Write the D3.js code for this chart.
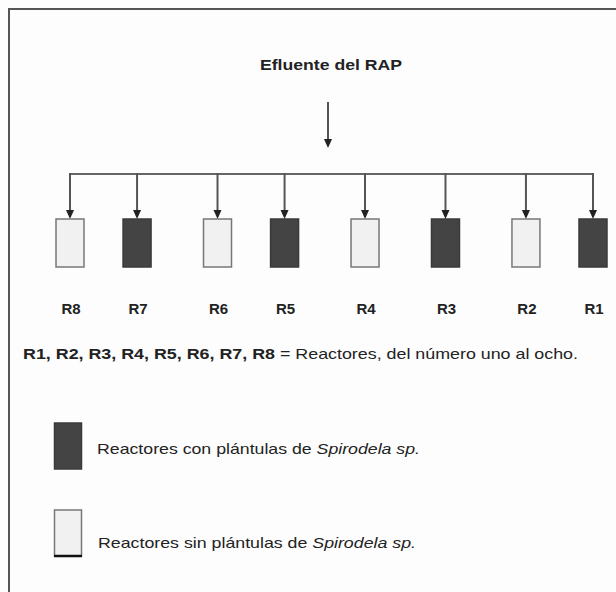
<!DOCTYPE html>
<html>
<head>
<meta charset="utf-8">
<script src="https://cdn.jsdelivr.net/npm/d3@7"></script>
<style>
  body { margin: 0; background: #fdfdfd; }
  text { font-family: "Liberation Sans", Arial, sans-serif; fill: #222; }
</style>
</head>
<body>
<script>
// reactor layout (left to right) and which ones have Spirodela plantlets
var reactors = ["R8", "R7", "R6", "R5", "R4", "R3", "R2", "R1"];
var slots = [0, 1, 2.2, 3.2, 4.4, 5.6, 6.8, 7.8];
var withPlants = [false, true, false, true, false, true, false, true];

var title = "Efluente del RAP";
var noteBold = "R1, R2, R3, R4, R5, R6, R7, R8";
var noteText = " = Reactores, del número uno al ocho.";
var legendItems = [
  { plants: true, text: "Reactores con plántulas de ", it: "Spirodela sp." },
  { plants: false, text: "Reactores sin plántulas de ", it: "Spirodela sp." }
];

var width = 616,
    height = 592;

var darkFill = "#444",
    lightFill = "#f1f1f1",
    lineCol = "#555";

var svg = d3.select("body").append("svg")
  .attr("width", width)
  .attr("height", height);

var x = d3.scaleLinear().domain([0, 7.8]).range([70, 593]);

var busY = 174, boxTop = 219, boxW = 28, boxH = 48;
var data = reactors.map(function(r, i) {
  return { name: r, slot: slots[i], plants: withPlants[i] };
});

// frame (only top and left edges show)
svg.append("path")
  .attr("d", "M9,592V9H616")
  .attr("fill", "none")
  .attr("stroke", "#555")
  .attr("stroke-width", 2);

// title + main arrow
var cx = 328;
svg.append("text")
  .attr("x", 260).attr("y", 70)
  .attr("textLength", 142).attr("lengthAdjust", "spacingAndGlyphs")
  .style("font-size", "15px").style("font-weight", "bold")
  .text(title);

function arrow(xp, y1, y2) {
  svg.append("line")
    .attr("x1", xp).attr("x2", xp)
    .attr("y1", y1).attr("y2", y2 - 6)
    .attr("stroke", lineCol).attr("stroke-width", 2);
  svg.append("path")
    .attr("d", "M" + (xp - 4) + "," + (y2 - 9) + "L" + (xp + 4) + "," + (y2 - 9) + "L" + xp + "," + y2 + "Z")
    .attr("fill", "#222");
}

arrow(cx, 102, 148);

// distribution bus
svg.append("line")
  .attr("x1", x(slots[0])).attr("x2", x(slots[slots.length - 1]))
  .attr("y1", busY).attr("y2", busY)
  .attr("stroke", "#666").attr("stroke-width", 2);

data.forEach(function(d) {
  arrow(x(d.slot), busY - 1, boxTop);
});

svg.selectAll("rect.reactor")
  .data(data)
  .enter()
  .append("rect")
  .attr("class", "reactor")
  .attr("x", function(d) { return x(d.slot) - boxW / 2; })
  .attr("y", boxTop)
  .attr("width", boxW)
  .attr("height", boxH)
  .attr("fill", function(d) { return d.plants ? darkFill : lightFill; })
  .attr("stroke", function(d) { return d.plants ? "#3a3a3a" : "#777"; })
  .attr("stroke-width", 1.5);

svg.selectAll("text.lab")
  .data(data)
  .enter()
  .append("text")
  .attr("class", "lab")
  .attr("x", function(d) { return x(d.slot) + 1; })
  .attr("y", 314)
  .attr("text-anchor", "middle")
  .style("font-size", "15px").style("font-weight", "bold")
  .text(function(d) { return d.name; });

// note line
var note = svg.append("text").attr("x", 23).attr("y", 359).style("font-size", "15px");
note.append("tspan").style("font-weight", "bold")
  .attr("textLength", 252).attr("lengthAdjust", "spacingAndGlyphs")
  .text(noteBold);
note.append("tspan")
  .attr("textLength", 303).attr("lengthAdjust", "spacingAndGlyphs")
  .text(noteText);

// legend
var legY = [423, 510];
var legW = [323, 318];
var leg = svg.selectAll("g.leg")
  .data(legendItems)
  .enter()
  .append("g")
  .attr("class", "leg")
  .attr("transform", function(d, i) { return "translate(54," + legY[i] + ")"; });

leg.append("rect")
  .attr("x", 0.5).attr("y", 0)
  .attr("width", 27).attr("height", 46)
  .attr("fill", function(d) { return d.plants ? darkFill : lightFill; })
  .attr("stroke", function(d) { return d.plants ? "#3a3a3a" : "#777"; })
  .attr("stroke-width", 1.5);

leg.filter(function(d) { return !d.plants; })
  .append("line")
  .attr("x1", 0).attr("x2", 28).attr("y1", 46).attr("y2", 46)
  .attr("stroke", "#111").attr("stroke-width", 2.5);

var legText = leg.append("text")
  .attr("x", function(d, i) { return i === 0 ? 43 : 44; })
  .attr("y", function(d, i) { return i === 0 ? 31 : 38; })
  .attr("textLength", function(d, i) { return legW[i]; })
  .attr("lengthAdjust", "spacingAndGlyphs")
  .style("font-size", "15px");
legText.append("tspan").text(function(d) { return d.text; });
legText.append("tspan").style("font-style", "italic").text(function(d) { return d.it; });
</script>
</body>
</html>
